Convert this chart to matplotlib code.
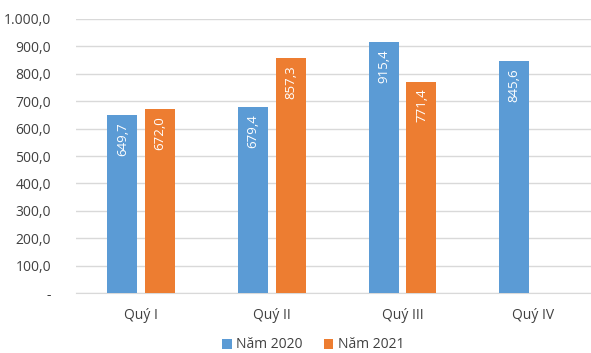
import matplotlib
matplotlib.use("Agg")
import matplotlib.pyplot as plt
from matplotlib.ticker import FuncFormatter
import numpy as np

plt.rcParams['font.family'] = ['Open Sans', 'DejaVu Sans']

categories = ["Quý I", "Quý II", "Quý III", "Quý IV"]
series_names = ["Năm 2020", "Năm 2021"]
values_2020 = [649.7, 679.4, 915.4, 845.6]
values_2021 = [672.0, 857.3, 771.4, None]
colors = ["#5B9BD5", "#ED7D31"]

W, H = 591, 353
fig = plt.figure(figsize=(W / 100, H / 100), dpi=100)
ax = fig.add_axes([76 / W, (H - 293) / H, (W - 76) / W, (293 - 19) / H])

x = np.arange(len(categories))
width = 0.23
offset = 0.145

def fmt_num(v):
    s = f"{v:,.1f}"
    return s.replace(",", "X").replace(".", ",").replace("X", ".")

for vals, off, col, name in [(values_2020, -offset, colors[0], series_names[0]),
                              (values_2021, offset, colors[1], series_names[1])]:
    xs = [xi + off for xi, v in zip(x, vals) if v is not None]
    vs = [v for v in vals if v is not None]
    ax.bar(xs, vs, width=width, color=col, label=name, zorder=3)
    for xi, v in zip(xs, vs):
        ax.annotate(fmt_num(v), xy=(xi, v), xytext=(0, -5), textcoords="offset points",
                    rotation=90, ha="center", va="top", color="white", fontsize=9.5, zorder=4)

ax.set_xlim(-0.5, 3.443)
ax.set_ylim(0, 1000)
ax.set_yticks(np.arange(0, 1001, 100))
ax.yaxis.set_major_formatter(FuncFormatter(lambda v, p: "-" if v == 0 else fmt_num(v)))
ax.set_xticks(x)
ax.set_xticklabels(categories)
ax.grid(axis="y", color="#D9D9D9", linewidth=1, zorder=0)
for s in ["top", "right", "left"]:
    ax.spines[s].set_visible(False)
ax.spines["bottom"].set_color("#D9D9D9")
ax.tick_params(axis="both", length=0, labelsize=10, colors="#404040")
ax.tick_params(axis="x", pad=11)
ax.tick_params(axis="y", pad=18)

fig.legend(loc="center", bbox_to_anchor=(0.53, (H - 345) / H), ncol=2, frameon=False,
           fontsize=10, handlelength=0.7, handleheight=0.7, handletextpad=0.3,
           columnspacing=1.5, labelcolor="#404040", borderpad=0)

fig.savefig("out.png", dpi=100)
